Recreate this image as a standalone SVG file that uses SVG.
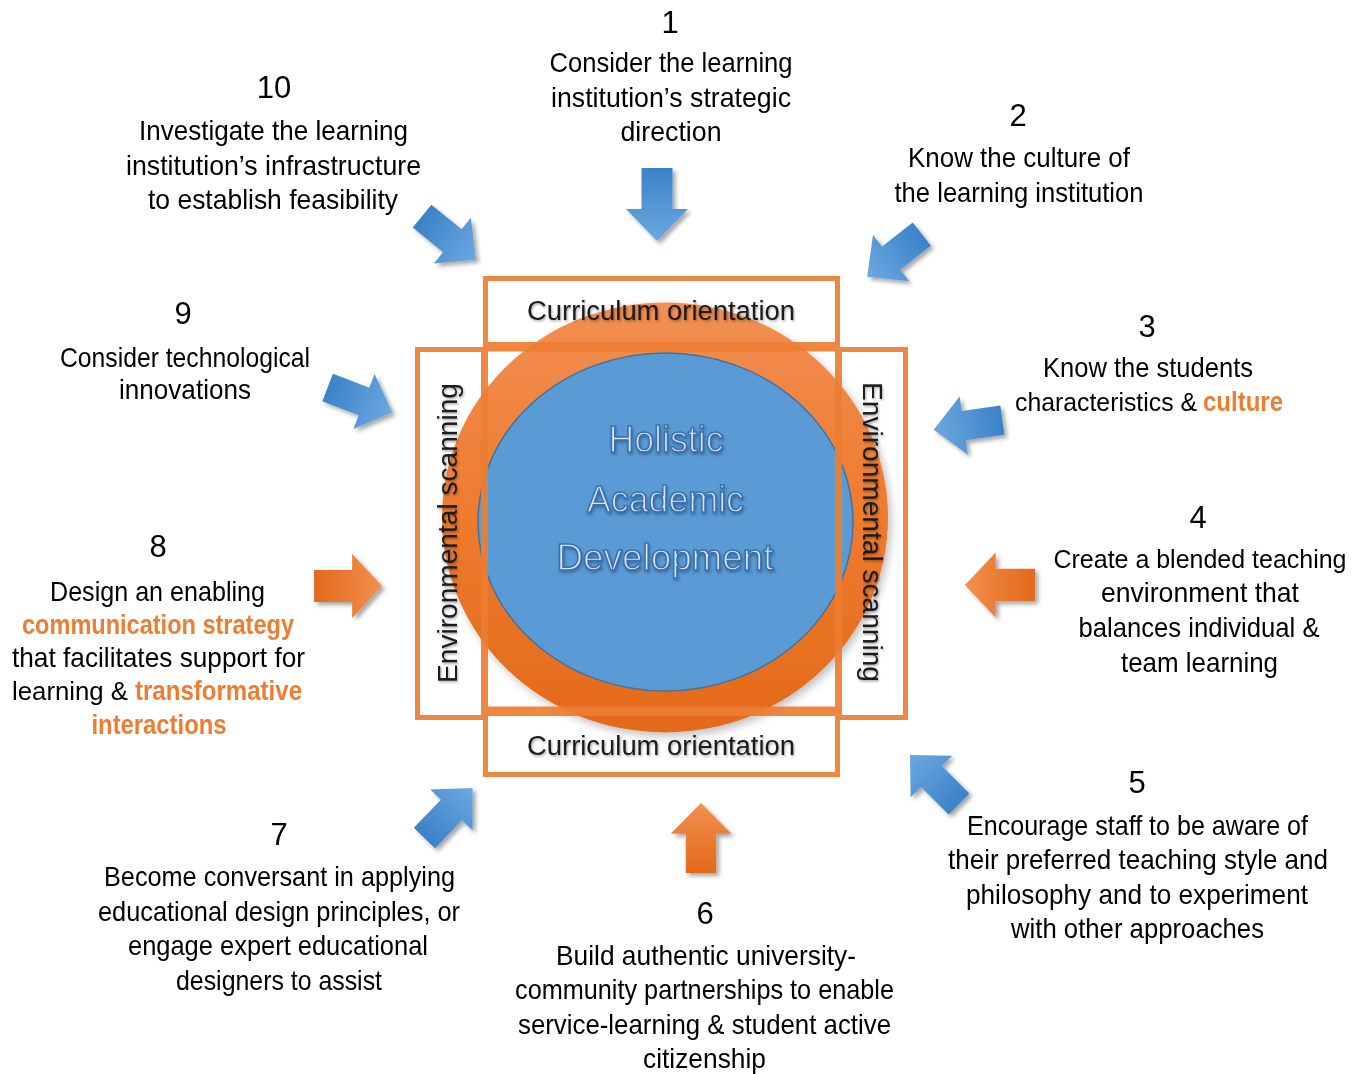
<svg xmlns="http://www.w3.org/2000/svg" width="1363" height="1074" viewBox="0 0 1363 1074">
  <defs>
    <linearGradient id="gBlue" x1="0" y1="0" x2="1" y2="0">
      <stop offset="0" stop-color="#3B82C8"/>
      <stop offset="1" stop-color="#6CA8DF"/>
    </linearGradient>
    <linearGradient id="gOrange" x1="0" y1="0" x2="1" y2="0">
      <stop offset="0" stop-color="#E2691A"/>
      <stop offset="1" stop-color="#F2904F"/>
    </linearGradient>
    <linearGradient id="gRing" x1="0" y1="0" x2="0" y2="1">
      <stop offset="0" stop-color="#F18F53"/>
      <stop offset="0.5" stop-color="#EE7B2E"/>
      <stop offset="1" stop-color="#E3691A"/>
    </linearGradient>
    <filter id="shadow" x="-30%" y="-30%" width="160%" height="160%">
      <feDropShadow dx="3" dy="3" stdDeviation="2" flood-color="#000" flood-opacity="0.35"/>
    </filter>
    <filter id="softShadow" x="-10%" y="-10%" width="120%" height="120%">
      <feDropShadow dx="3" dy="4" stdDeviation="4" flood-color="#000" flood-opacity="0.25"/>
    </filter>
    <filter id="textShadow" x="-5%" y="-20%" width="110%" height="140%">
      <feDropShadow dx="1" dy="1.5" stdDeviation="1" flood-color="#000" flood-opacity="0.35"/>
    </filter>
    <filter id="glow" x="-10%" y="-30%" width="120%" height="160%">
      <feDropShadow dx="1" dy="2" stdDeviation="1.5" flood-color="#1F4E79" flood-opacity="0.6"/>
    </filter>
    <!-- block arrow pointing along +x, centred on the origin -->
    <path id="arrow" d="M-36.5,-15.5 H4.5 V-31 L36.5,0 L4.5,31 V15.5 H-36.5 Z"/>
  </defs>
  <style>
    .t { font-family: "Liberation Sans", Arial, sans-serif; font-size: 28px; fill: #000; text-anchor: middle; }
    .s { text-anchor: start; }
    .num { font-family: "Liberation Sans", Arial, sans-serif; font-size: 31px; fill: #000; text-anchor: middle; }
    .hi { fill: #ED7D31; font-weight: bold; }
    .box { fill: none; stroke: #ED7D31; stroke-width: 5; }
    .lbl { font-family: "Liberation Sans", Arial, sans-serif; font-size: 27px; fill: #1A1A1A; text-anchor: middle; }
    .core { font-family: "Liberation Sans", Arial, sans-serif; font-size: 36px; fill: #D9E6F6; stroke: #3A6FB0; stroke-width: 1.5; text-anchor: middle; }
    .blue { fill: url(#gBlue); }
    .orange { fill: url(#gOrange); }
  </style>

  <rect width="1363" height="1074" fill="#fff"/>

  <!-- central hub: orange ring, blue core and the framing boxes -->
  <g id="hub">
    <ellipse cx="665" cy="517.5" rx="223" ry="215" fill="url(#gRing)" filter="url(#softShadow)"/>
    <ellipse cx="665.5" cy="522" rx="187.5" ry="169" fill="#5B9BD5" stroke="#41719C" stroke-width="1.5"/>
    <g opacity="0.92">
      <rect class="box" x="485.5" y="278.5" width="352" height="66"/>
      <rect class="box" x="485.5" y="349" width="352" height="360"/>
      <rect class="box" x="485.5" y="713.5" width="352" height="61"/>
      <rect class="box" x="417.5" y="349.5" width="66" height="368"/>
      <rect class="box" x="839.5" y="349.5" width="66" height="368"/>
    </g>
    <g filter="url(#textShadow)">
      <text class="lbl" x="661" y="320" textLength="268" lengthAdjust="spacingAndGlyphs">Curriculum orientation</text>
      <text class="lbl" x="661" y="755" textLength="268" lengthAdjust="spacingAndGlyphs">Curriculum orientation</text>
      <text class="lbl" transform="translate(457,533) rotate(-90)" x="0" y="0" textLength="300" lengthAdjust="spacingAndGlyphs">Environmental scanning</text>
      <text class="lbl" transform="translate(863,532) rotate(90)" x="0" y="0" textLength="300" lengthAdjust="spacingAndGlyphs">Environmental scanning</text>
    </g>
    <g filter="url(#glow)">
      <text class="core" x="666" y="452" textLength="115" lengthAdjust="spacingAndGlyphs">Holistic</text>
      <text class="core" x="665.5" y="512" textLength="157" lengthAdjust="spacingAndGlyphs">Academic</text>
      <text class="core" x="665" y="570" textLength="217" lengthAdjust="spacingAndGlyphs">Development</text>
    </g>
  </g>

  <!-- arrows pointing in towards the hub -->
  <g id="connectors">
    <g filter="url(#shadow)"><use href="#arrow" class="blue" transform="translate(657,204.5) rotate(90)"/></g>
    <g filter="url(#shadow)"><use href="#arrow" class="blue" transform="translate(894.5,255.5) rotate(142) scale(0.95)"/></g>
    <g filter="url(#shadow)"><use href="#arrow" class="blue" transform="translate(968,425) rotate(172) scale(0.95)"/></g>
    <g filter="url(#shadow)"><use href="#arrow" class="orange" transform="translate(1000,585) rotate(180) scale(0.96,1.05)"/></g>
    <g filter="url(#shadow)"><use href="#arrow" class="blue" transform="translate(934.5,779.5) rotate(225) scale(0.95)"/></g>
    <g filter="url(#shadow)"><use href="#arrow" class="orange" transform="translate(701,838) rotate(-90) scale(0.96,0.98)"/></g>
    <g filter="url(#shadow)"><use href="#arrow" class="blue" transform="translate(448.5,813) rotate(-46) scale(0.95)"/></g>
    <g filter="url(#shadow)"><use href="#arrow" class="orange" transform="translate(348,586) scale(0.93,1.03)"/></g>
    <g filter="url(#shadow)"><use href="#arrow" class="blue" transform="translate(360,400) rotate(21) scale(0.95)"/></g>
    <g filter="url(#shadow)"><use href="#arrow" class="blue" transform="translate(449,238) rotate(39) scale(0.95)"/></g>
  </g>

  <g id="step1">
    <text class="num" x="670" y="33">1</text>
    <text class="t" x="671" y="72" textLength="243" lengthAdjust="spacingAndGlyphs">Consider the learning</text>
    <text class="t" x="671" y="107" textLength="240" lengthAdjust="spacingAndGlyphs">institution’s strategic</text>
    <text class="t" x="671" y="141" textLength="101" lengthAdjust="spacingAndGlyphs">direction</text>
  </g>

  <g id="step2">
    <text class="num" x="1018" y="126">2</text>
    <text class="t" x="1019" y="166.5" textLength="222" lengthAdjust="spacingAndGlyphs">Know the culture of</text>
    <text class="t" x="1019" y="201.5" textLength="249" lengthAdjust="spacingAndGlyphs">the learning institution</text>
  </g>

  <g id="step3">
    <text class="num" x="1147" y="337">3</text>
    <text class="t" x="1148" y="377" textLength="210" lengthAdjust="spacingAndGlyphs">Know the students</text>
    <text class="t s" x="1015" y="411" style="font-size:25px" textLength="182" lengthAdjust="spacingAndGlyphs">characteristics &amp;</text>
    <text class="t s hi" x="1203" y="411" textLength="80" lengthAdjust="spacingAndGlyphs">culture</text>
  </g>

  <g id="step4">
    <text class="num" x="1198" y="528">4</text>
    <text class="t" x="1200" y="567.5" style="font-size:26px" textLength="293" lengthAdjust="spacingAndGlyphs">Create a blended teaching</text>
    <text class="t" x="1200" y="601.5" textLength="198" lengthAdjust="spacingAndGlyphs">environment that</text>
    <text class="t" x="1199" y="636.5" textLength="241" lengthAdjust="spacingAndGlyphs">balances individual &amp;</text>
    <text class="t" x="1199.5" y="671.5" textLength="157" lengthAdjust="spacingAndGlyphs">team learning</text>
  </g>

  <g id="step5">
    <text class="num" x="1137" y="793">5</text>
    <text class="t" x="1137.5" y="834.5" textLength="341" lengthAdjust="spacingAndGlyphs">Encourage staff to be aware of</text>
    <text class="t" x="1138" y="868.5" textLength="380" lengthAdjust="spacingAndGlyphs">their preferred teaching style and</text>
    <text class="t" x="1137" y="903.5" textLength="342" lengthAdjust="spacingAndGlyphs">philosophy and to experiment</text>
    <text class="t" x="1137.5" y="937.5" textLength="253" lengthAdjust="spacingAndGlyphs">with other approaches</text>
  </g>

  <g id="step6">
    <text class="num" x="705" y="924">6</text>
    <text class="t" x="706" y="964.5" textLength="300" lengthAdjust="spacingAndGlyphs">Build authentic university-</text>
    <text class="t" x="704.5" y="998.5" textLength="379" lengthAdjust="spacingAndGlyphs">community partnerships to enable</text>
    <text class="t" x="704.5" y="1033.5" textLength="373" lengthAdjust="spacingAndGlyphs">service-learning &amp; student active</text>
    <text class="t" x="704.5" y="1067.5" textLength="123" lengthAdjust="spacingAndGlyphs">citizenship</text>
  </g>

  <g id="step7">
    <text class="num" x="279" y="845">7</text>
    <text class="t" x="279.5" y="885.5" textLength="351" lengthAdjust="spacingAndGlyphs">Become conversant in applying</text>
    <text class="t" x="279" y="920.5" textLength="362" lengthAdjust="spacingAndGlyphs">educational design principles, or</text>
    <text class="t" x="278" y="954.5" textLength="300" lengthAdjust="spacingAndGlyphs">engage expert educational</text>
    <text class="t" x="279" y="989.5" textLength="206" lengthAdjust="spacingAndGlyphs">designers to assist</text>
  </g>

  <g id="step8">
    <text class="num" x="158" y="557">8</text>
    <text class="t" x="157.5" y="601" textLength="215" lengthAdjust="spacingAndGlyphs">Design an enabling</text>
    <text class="t hi" x="158" y="634" textLength="272" lengthAdjust="spacingAndGlyphs">communication strategy</text>
    <text class="t" x="158.5" y="667" textLength="293" lengthAdjust="spacingAndGlyphs">that facilitates support for</text>
    <text class="t s" x="12" y="700" style="font-size:26px" textLength="116" lengthAdjust="spacingAndGlyphs">learning &amp;</text>
    <text class="t s hi" x="135" y="700" textLength="167" lengthAdjust="spacingAndGlyphs">transformative</text>
    <text class="t hi" x="159" y="734" textLength="135" lengthAdjust="spacingAndGlyphs">interactions</text>
  </g>

  <g id="step9">
    <text class="num" x="183" y="324">9</text>
    <text class="t" x="185" y="366.5" textLength="250" lengthAdjust="spacingAndGlyphs">Consider technological</text>
    <text class="t" x="185" y="398.5" textLength="132" lengthAdjust="spacingAndGlyphs">innovations</text>
  </g>

  <g id="step10">
    <text class="num" x="274" y="98">10</text>
    <text class="t" x="273.5" y="140" textLength="269" lengthAdjust="spacingAndGlyphs">Investigate the learning</text>
    <text class="t" x="273.5" y="174.5" textLength="295" lengthAdjust="spacingAndGlyphs">institution’s infrastructure</text>
    <text class="t" x="273" y="209" textLength="250" lengthAdjust="spacingAndGlyphs">to establish feasibility</text>
  </g>
</svg>
